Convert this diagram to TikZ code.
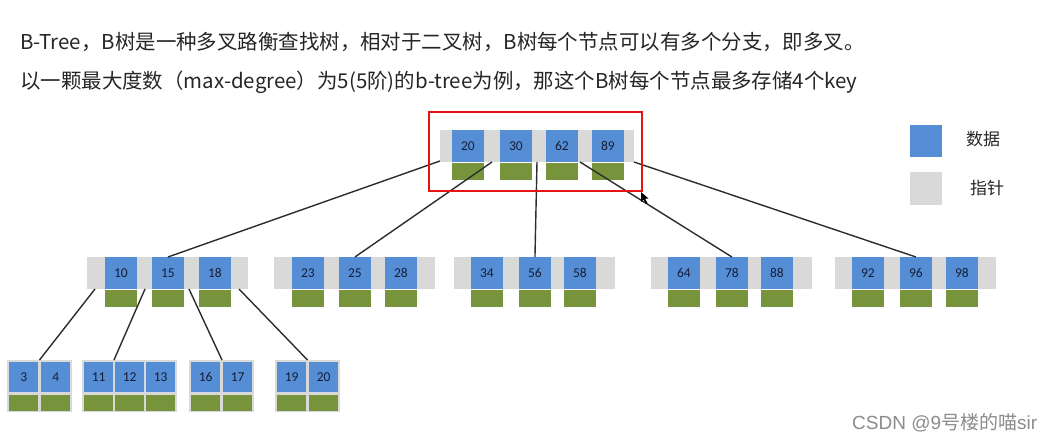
\documentclass[tikz,border=0pt]{standalone}
\usepackage{fontspec}
\setmainfont{Carlito}
\newfontfamily\cjk{Noto Sans CJK SC}
\newfontfamily\wmlatin{Liberation Sans}
\definecolor{keyblue}{RGB}{85,142,213}
\definecolor{ptrgray}{RGB}{217,217,217}
\definecolor{dgreen}{RGB}{119,147,60}
\definecolor{keytext}{RGB}{20,30,55}
\definecolor{linec}{RGB}{45,45,45}
\definecolor{redbox}{RGB}{228,20,20}
\definecolor{wmgray}{RGB}{140,140,140}
\tikzset{
  strip/.style={fill=ptrgray, draw=none, inner sep=0pt, anchor=north west, minimum height=32pt},
  keybox/.style={fill=keyblue, draw=none, inner sep=0pt, anchor=north west, minimum width=31.5pt, minimum height=32pt, text=keytext, font=\fontsize{13.5}{13.5}\selectfont},
  greenbox/.style={fill=dgreen, draw=none, inner sep=0pt, anchor=north west, minimum width=31.5pt, minimum height=17pt},
  leafframe/.style={fill=ptrgray, draw=none, inner sep=0pt, anchor=north west, minimum height=52pt},
  leafkey/.style={fill=keyblue, draw=none, inner sep=0pt, anchor=north west, minimum width=29pt, minimum height=30pt, text=keytext, font=\fontsize{13.5}{13.5}\selectfont},
  leafgreen/.style={fill=dgreen, draw=none, inner sep=0pt, anchor=north west, minimum width=29pt, minimum height=16pt},
  conn/.style={draw=linec, line width=1.4pt},
  title/.style={anchor=west, inner sep=0pt, font=\cjk\fontsize{20.45}{20.45}\selectfont, text=black!85},
}
\begin{document}
\begin{tikzpicture}[x=1pt,y=-1pt]
\fill[white] (0,0) rectangle (1051,443);
\useasboundingbox (0,0) rectangle (1051,443);

% title lines
\node[title] (t1) at (20,42) {B-Tree，B树是一种多叉路衡查找树，相对于二叉树，B树每个节点可以有多个分支，即多叉。};
\node[title] (t2) at (20,82) {以一颗最大度数（max-degree）为5(5阶)的b-tree为例，那这个B树每个节点最多存储4个key};

% ---------- root ----------
\node[strip, minimum width=194pt] (root) at (440,130) {};
\node[keybox] (k20) at (452,130) {20};
\node[keybox] (k30) at (500,130) {30};
\node[keybox] (k62) at (546,130) {62};
\node[keybox] (k89) at (592,130) {89};
\foreach \k in {20,30,62,89} \node[greenbox] at (k\k.south west) {};
\coordinate (r0) at (440,161);
\coordinate (r1) at (492,162);
\coordinate (r2) at (537,162);
\coordinate (r3) at (580,162);
\coordinate (r4) at (634,162);

% ---------- level 2 ----------
\node[strip, minimum width=161pt] (n1) at (87,257) {};
\node[keybox] (k10) at (105,257) {10};
\node[keybox] (k15) at (152,257) {15};
\node[keybox] (k18) at (199,257) {18};

\node[strip, minimum width=161pt] (n2) at (274,257) {};
\node[keybox] (k23) at (292,257) {23};
\node[keybox] (k25) at (339,257) {25};
\node[keybox] (k28) at (385,257) {28};

\node[strip, minimum width=161pt] (n3) at (454,257) {};
\node[keybox] (k34) at (471,257) {34};
\node[keybox] (k56) at (519,257) {56};
\node[keybox] (k58) at (564,257) {58};

\node[strip, minimum width=161pt] (n4) at (651,257) {};
\node[keybox] (k64) at (668,257) {64};
\node[keybox] (k78) at (716,257) {78};
\node[keybox] (k88) at (761,257) {88};

\node[strip, minimum width=161pt] (n5) at (835,257) {};
\node[keybox] (k92) at (852,257) {92};
\node[keybox] (k96) at (900,257) {96};
\node[keybox] (k98) at (946,257) {98};

\foreach \k in {10,15,18,23,25,28,34,56,58,64,78,88,92,96,98} \node[greenbox] at (k\k.south west) {};

\coordinate (a0) at (95,289);
\coordinate (a1) at (145,289);
\coordinate (a2) at (189,289);
\coordinate (a3) at (239,289);

% ---------- leaves ----------
\node[leafframe, minimum width=65pt] (L1) at (7,360) {};
\node[leafkey] (k3) at (9,362) {3};
\node[leafkey] (k4) at (41,362) {4};

\node[leafframe, minimum width=95pt] (L2) at (82,360) {};
\node[leafkey] (k11) at (84,362) {11};
\node[leafkey] (k12) at (115,362) {12};
\node[leafkey] (k13) at (146,362) {13};

\node[leafframe, minimum width=65pt] (L3) at (189,360) {};
\node[leafkey] (k16) at (191,362) {16};
\node[leafkey] (k17) at (223,362) {17};

\node[leafframe, minimum width=65pt] (L4) at (275,360) {};
\node[leafkey] (k19) at (277,362) {19};
\node[leafkey] (k20b) at (309,362) {20};

\foreach \k in {3,4,11,12,13,16,17,19,20b} \node[leafgreen] at ([yshift=-2pt]k\k.south west) {};

% ---------- connectors ----------
\draw[conn] (r0) -- (k15.north);
\draw[conn] (r1) -- (k25.north);
\draw[conn] (r2) -- (k56.north);
\draw[conn] (r3) -- (k78.north);
\draw[conn] (r4) -- (k96.north);

\draw[conn] (a0) -- (L1.north -| 39.5,0);
\draw[conn] (a1) -- (L2.north -| 114,0);
\draw[conn] (a2) -- (L3.north -| 222,0);
\draw[conn] (a3) -- (L4.north -| 307.5,0);

% red highlight
\draw[redbox, line width=2pt] (429,112) rectangle (642,191);

% mouse pointer
\fill[black] (641,192) -- (641,202) -- (643.5,199.5) -- (646,204) -- (647.5,203.2) -- (645.2,198.8) -- (648.5,198.5) -- cycle;

% legend
\node[fill=keyblue, inner sep=0pt, minimum width=32pt, minimum height=32pt] (legk) at (926,141) {};
\node[fill=ptrgray, inner sep=0pt, minimum width=32pt, minimum height=33pt] (legp) at (926,188.5) {};
\node[font=\cjk\fontsize{17}{17}\selectfont, text=black!85] (legkt) at (983,139) {数据};
\node[font=\cjk\fontsize{17}{17}\selectfont, text=black!85] (legpt) at (987,188) {指针};

% watermark
\node[anchor=west, inner sep=0pt, text=wmgray] (wm) at (852,423) {\fontsize{19}{19}\selectfont\wmlatin CSDN @9\cjk 号楼的喵\wmlatin sir};
\end{tikzpicture}
\end{document}
